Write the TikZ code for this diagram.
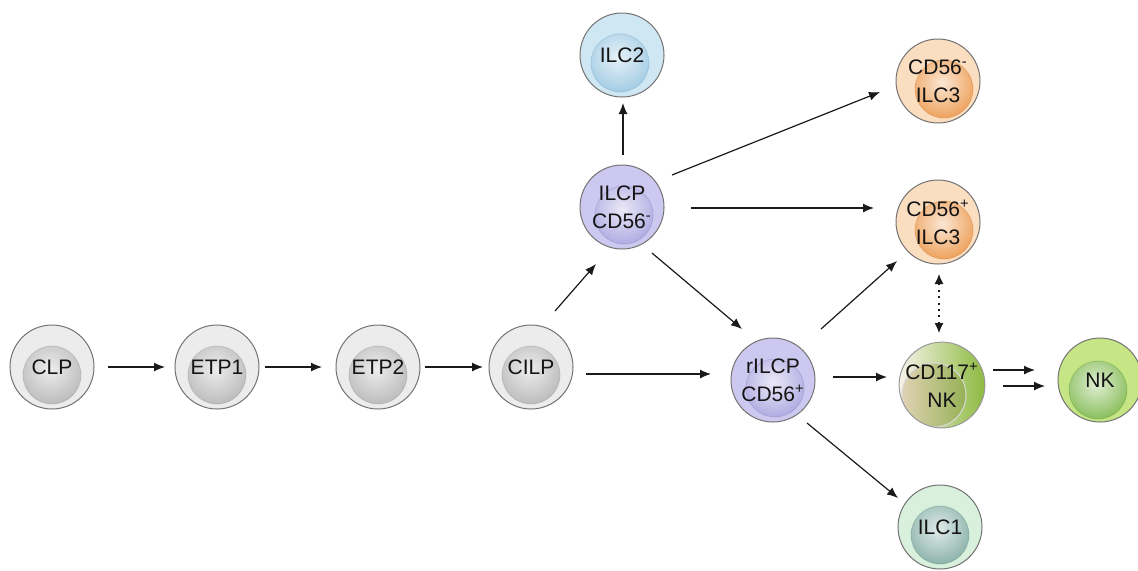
\documentclass[tikz,border=0pt]{standalone}
\usepackage{fontspec}
\setmainfont{Liberation Sans}
\usetikzlibrary{arrows.meta}
\definecolor{grayout}{HTML}{ECECEC}
\definecolor{grayin}{HTML}{9C9C9C}
\definecolor{purout}{HTML}{CCC8F0}
\definecolor{purin}{HTML}{8C83D4}
\definecolor{bluout}{HTML}{CFE7F3}
\definecolor{bluin}{HTML}{78B4D7}
\definecolor{orout}{HTML}{FBDDC0}
\definecolor{orin}{HTML}{E67610}
\definecolor{grout}{HTML}{D8F0DC}
\definecolor{grin}{HTML}{568F82}
\definecolor{nkout}{HTML}{C6E685}
\definecolor{nkin}{HTML}{52A010}
\definecolor{tanl}{HTML}{F7F3EA}
\definecolor{tanr}{HTML}{8DBA40}
\definecolor{tanin}{HTML}{C6A56C}
\definecolor{linec}{HTML}{1A1A1A}
\begin{document}
\begin{tikzpicture}[x=0.5pt,y=-0.5pt,
  celltext/.style={font=\fontsize{10.5}{14}\selectfont, align=center, text=black!92},
  cell/.style n args={4}{circle, minimum size=42pt, inner sep=0pt, draw=black!55, line width=0.5pt,
    fill=#1, celltext,
    path picture={
      \begin{scope}
      \clip ([shift={(#3pt,#4pt)}]path picture bounding box.center) circle (14.5pt);
      \shade[inner color=#2!18!white, outer color=#2] ([shift={(#3pt-1pt,#4pt+3pt)}]path picture bounding box.center) circle (29pt);
      \end{scope}
      \draw[#2!80!black, opacity=0.25, line width=0.4pt] ([shift={(#3pt,#4pt)}]path picture bounding box.center) circle (14.5pt);}},
  arr/.style={-{Latex[length=5.5pt,width=4.5pt]}, line width=0.6pt, draw=linec},
  darr/.style={{Latex[length=5pt,width=4.5pt]}-{Latex[length=5pt,width=4.5pt]}, line width=0.6pt, draw=linec, dash pattern=on 1pt off 2.2pt}
]
\useasboundingbox (0,0) rectangle (1138,570);

\node[cell={grayout}{grayin}{0}{-4}] (clp)  at (52,367) {CLP};
\node[cell={grayout}{grayin}{0}{-4}] (etp1) at (217,367) {ETP1};
\node[cell={grayout}{grayin}{0}{-4}] (etp2) at (378,367) {ETP2};
\node[cell={grayout}{grayin}{0}{-4}] (cilp) at (531,367) {CILP};
\node[cell={purout}{purin}{1}{-4}] (ilcp) at (622,207) {ILCP\\CD56\textsuperscript{-}};
\node[cell={bluout}{bluin}{-1}{-4}] (ilc2) at (622,55) {ILC2};
\node[cell={purout}{purin}{1}{-4}] (rilcp) at (773,380) {rILCP\\CD56\textsuperscript{+}};
\node[cell={orout}{orin}{3}{-4}] (ilc3a) at (938,81) {CD56\textsuperscript{-}\\ILC3};
\node[cell={orout}{orin}{3}{-4}] (ilc3b) at (938,222) {CD56\textsuperscript{+}\\ILC3};
\node[cell={grout}{grin}{0}{-4}] (ilc1) at (940,527) {ILC1};
\node[cell={nkout}{nkin}{-1}{-5}] (nk) at (1100,380) {NK};
\node[circle, minimum size=42pt, inner sep=0pt, draw=black!40, line width=0.5pt,
  left color=tanl, right color=tanr, celltext,
  path picture={\shade[left color=tanl!60!tanin, right color=tanr!90!black, draw=white!85!black]
     ([shift={(-4pt,-5pt)}]path picture bounding box.center) circle (16pt);}]
  (nk117) at (942,385) {CD117\textsuperscript{+}\\NK};

\draw[arr] ([shift={(56,0)}]clp.center) -- ([shift={(-52,0)}]etp1.center);
\draw[arr] ([shift={(48,0)}]etp1.center) -- ([shift={(-56,0)}]etp2.center);
\draw[arr] ([shift={(47,0)}]etp2.center) -- ([shift={(-48,0)}]cilp.center);
\draw[arr] ([shift={(24,-56)}]cilp.center) -- ([shift={(-26,57)}]ilcp.center);
\draw[arr] ([shift={(55,7)}]cilp.center) -- ([shift={(-62,-6)}]rilcp.center);
\draw[arr] ([shift={(1,-52)}]ilcp.center) -- ([shift={(1,48)}]ilc2.center);
\draw[arr] ([shift={(50,-32)}]ilcp.center) -- ([shift={(-58,11)}]ilc3a.center);
\draw[arr] ([shift={(69,1)}]ilcp.center) -- ([shift={(-64,-14)}]ilc3b.center);
\draw[arr] ([shift={(30,46)}]ilcp.center) -- ([shift={(-31,-51)}]rilcp.center);
\draw[arr] ([shift={(48,-51)}]rilcp.center) -- ([shift={(-41,39)}]ilc3b.center);
\draw[arr] ([shift={(60,-3)}]rilcp.center) -- ([shift={(-55,-8)}]nk117.center);
\draw[arr] ([shift={(34,43)}]rilcp.center) -- ([shift={(-42,-29)}]ilc1.center);
\draw[darr] ([shift={(1,52)}]ilc3b.center) -- ([shift={(-3,-52)}]nk117.center);
\draw[arr] ([shift={(51,-15)}]nk117.center) -- ([shift={(-65,-10)}]nk.center);
\draw[arr] ([shift={(61,1)}]nk117.center) -- ([shift={(-55,6)}]nk.center);
\end{tikzpicture}
\end{document}
